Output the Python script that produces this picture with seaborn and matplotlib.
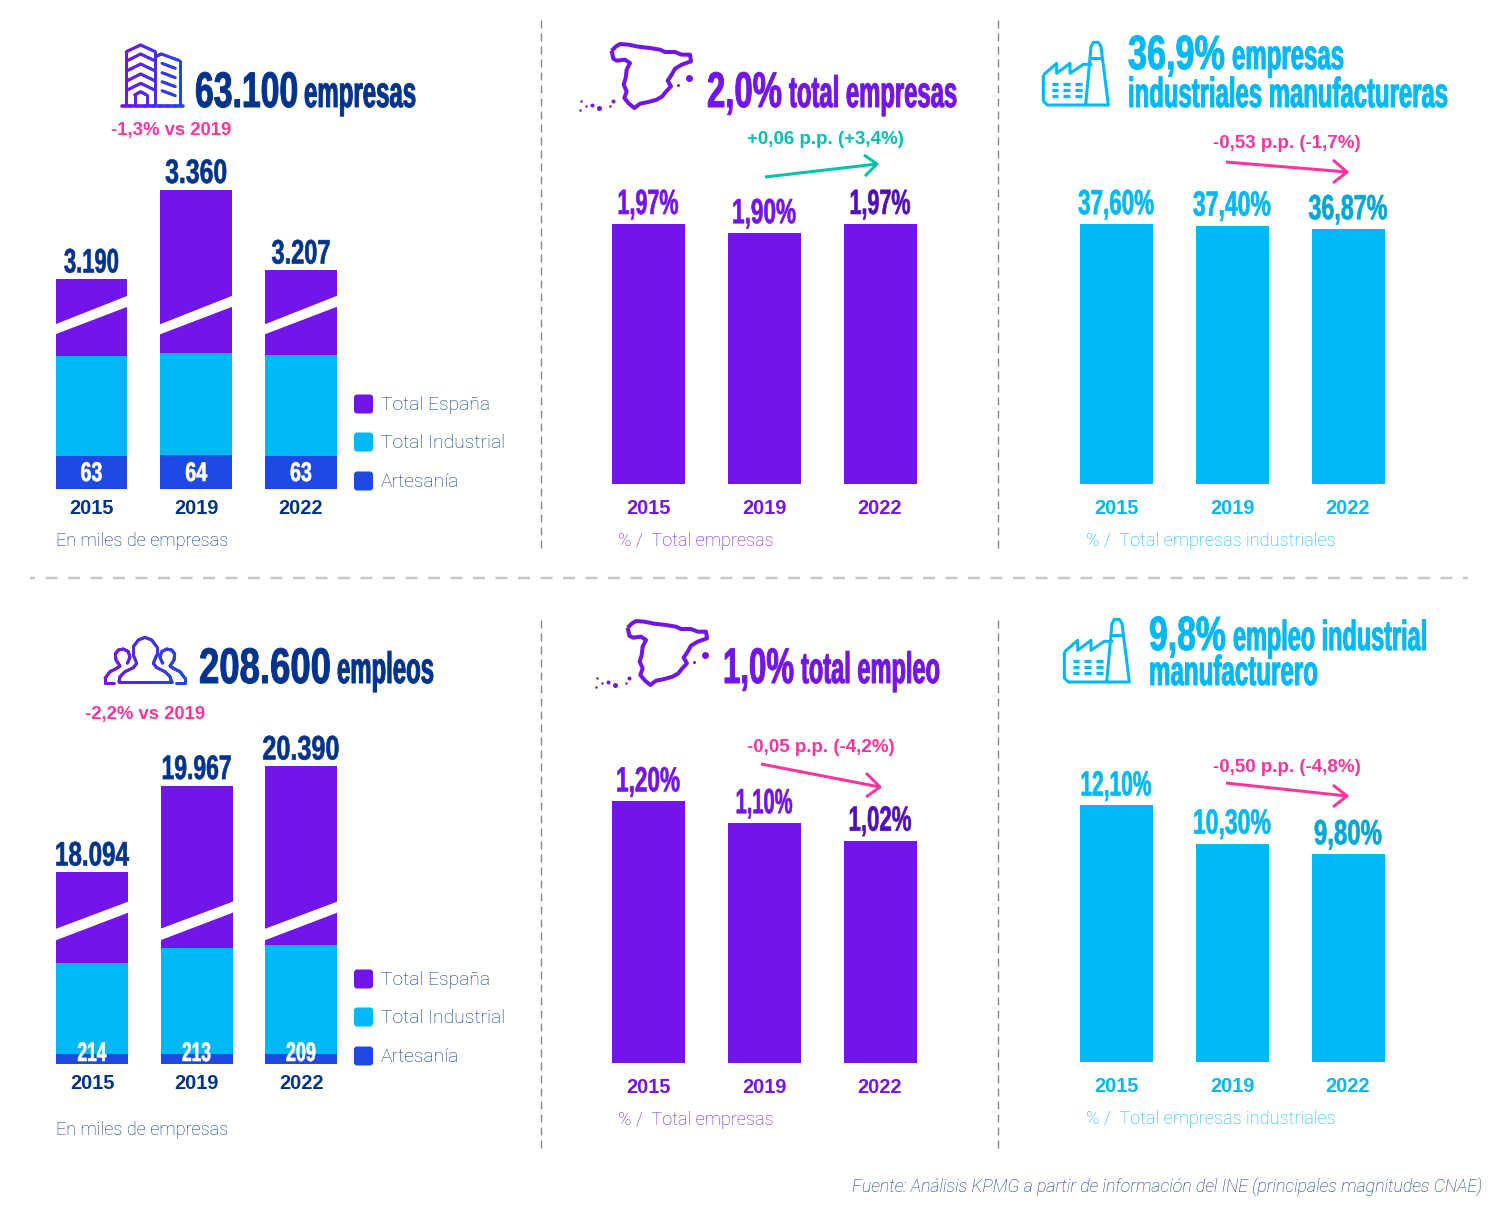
import numpy as np
import matplotlib
matplotlib.use('Agg')
import matplotlib.pyplot as plt
import matplotlib.patheffects as pe
from matplotlib.collections import LineCollection
from matplotlib.colors import LinearSegmentedColormap
from matplotlib.patches import FancyBboxPatch, Polygon
from matplotlib.transforms import Affine2D
import seaborn as sns

# data
years = ['2015', '2019', '2022']
empresas_total = [3190, 3360, 3207]
empresas_industria = [168, 171, 169]
empresas_artesania = [63, 64, 63]
empleo_total = [18094, 19967, 20390]
empleo_industria = [1769, 2068, 2133]
empleo_artesania = [214, 213, 209]
pct_empresas = [1.97, 1.90, 1.97]
pct_empresas_ind = [37.60, 37.40, 36.87]
pct_empleo = [1.20, 1.10, 1.02]
pct_empleo_ind = [12.10, 10.30, 9.80]
legend_labels = ['Total España', 'Total Industrial', 'Artesanía']

PURPLE = '#7215EA'
DARK_PURPLE = '#5010B8'
CYAN = '#00B8F5'
DARK_CYAN = '#00A6D6'
ROYAL = '#1E49E2'
NAVY = '#00338D'
PINK = '#FD349C'
TEAL = '#00C0AE'
NARROW = ['Liberation Sans Narrow', 'Liberation Sans']
BOLD = 'Liberation Sans'
LIGHT = 'Roboto'

sns.set_theme(style='white')
plt.rcParams['lines.scale_dashes'] = False
plt.rcParams['font.family'] = ['Liberation Sans', 'DejaVu Sans']

fig = plt.figure(figsize=(15, 12.12), dpi=100)
ov = fig.add_axes([0, 0, 1, 1], zorder=10)
ov.set_xlim(0, 1500)
ov.set_ylim(1212, 0)
ov.axis('off')


class Tall(pe.AbstractPathEffect):
    # the headline font is far more condensed than anything installed, so
    # the text is set small enough to fit its width and stretched upwards
    def __init__(self, sy, fat):
        super().__init__()
        self.sy = sy
        self.fat = fat

    def draw_path(self, renderer, gc, tpath, affine, rgbFace=None):
        y0 = affine.get_matrix()[1, 2]
        tall = affine + Affine2D().translate(0, -y0).scale(1, self.sy).translate(0, y0)
        gc2 = renderer.new_gc()
        gc2.copy_properties(gc)
        gc2.set_foreground(rgbFace)
        gc2.set_linewidth(self.fat)
        renderer.draw_path(gc2, tpath, tall, rgbFace)
        gc2.restore()


def fit_text(t, size, width, fat):
    w = t.get_window_extent(fig.canvas.get_renderer()).width
    t.set_fontsize(px(size * width / w))
    t.set_path_effects([Tall(w / width, fat)])
    return t


def px(size):
    return size * 0.72


def txt(x, y, s, size, color, family=BOLD, weight='normal', ha='left', va='center', style='normal'):
    return ov.text(x, y, s, fontsize=px(size), color=color, family=family, weight=weight,
                   ha=ha, va=va, style=style)


def head(x, y, s, size, color, width):
    t = ov.text(x, y, s, fontsize=px(size), color=color, family=NARROW, weight='bold',
                ha='left', va='baseline')
    return fit_text(t, size, width, 0.7)


def bar_axes(center0, spacing, base, height):
    left = center0 - spacing / 2
    ax = fig.add_axes([left / 1500, (1212 - base) / 1212, 3 * spacing / 1500, height / 1212])
    ax.patch.set_alpha(0)
    return ax


def finish_axes(ax, color, tick_pad):
    ax.set_xlim(-0.5, 2.5)
    ax.set_xlabel('')
    ax.set_ylabel('')
    ax.set_yticks([])
    ax.tick_params(axis='x', length=0, pad=px(tick_pad), labelsize=px(20), labelcolor=color)
    for lab in ax.get_xticklabels():
        lab.set_fontweight('bold')
    sns.despine(ax=ax, left=True, bottom=True)


def bar_label(ax, i, v, s, gap, size, color, width):
    t = ax.annotate(s, (i, v), xytext=(0, px(gap)), textcoords='offset points', ha='center',
                    va='baseline', fontsize=px(size), color=color, family=NARROW, weight='bold',
                    annotation_clip=False)
    fit_text(t, size, width, 0.45)


def miles(v):
    return f'{v:,}'.replace(',', '.')


def stacked_panel(total, industria, artesania, knots_v, knots_px, center0, spacing, base,
                  art_gap, break_left, break_right, tick_pad, total_w, art_w):
    # broken axis: piecewise scale, as in the original chart
    forward = lambda v: np.interp(v, knots_v, knots_px)
    inverse = lambda p: np.interp(p, knots_px, knots_v)
    ax = bar_axes(center0, spacing, base, forward(max(total)))
    ax.set_yscale('function', functions=(forward, inverse))
    width = 72 / spacing
    sns.barplot(x=years, y=total, color=PURPLE, saturation=1, width=width, linewidth=0, ax=ax)
    sns.barplot(x=years, y=industria, color=CYAN, saturation=1, width=width, linewidth=0, ax=ax)
    sns.barplot(x=years, y=artesania, color=ROYAL, saturation=1, width=width, linewidth=0, ax=ax)
    ax.set_ylim(0, max(total))
    finish_axes(ax, NAVY, tick_pad)
    for i in range(3):
        bar_label(ax, i, total[i], miles(total[i]), 6.5, 34, NAVY, total_w[i])
        bar_label(ax, i, 0, str(artesania[i]), art_gap, 27, 'white', art_w[i])
        # white slash marking the axis break
        x0 = center0 + i * spacing - 38
        x1 = center0 + i * spacing + 38
        ov.add_patch(Polygon([(x0, base - break_left[0]), (x1, base - break_right[0]),
                              (x1, base - break_right[1]), (x0, base - break_left[1])],
                             color='white', lw=0, zorder=3))
    return ax


def pct_panel(values, scale, color, last_color, center0, base, tick_pad, label_w):
    spacing = 116
    ax = bar_axes(center0, spacing, base, scale * max(values))
    sns.barplot(x=years, y=values, color=color, saturation=1, width=73 / spacing, linewidth=0, ax=ax)
    ax.set_ylim(0, max(values))
    finish_axes(ax, color, tick_pad)
    for i, v in enumerate(values):
        s = f'{v:.2f}%'.replace('.', ',')
        bar_label(ax, i, v, s, 10, 35, last_color if i == 2 else color, label_w[i])
    return ax


def grad_line(pts, lw=3.0, xr=None):
    # purple to blue gradient used by two of the icons
    pts = np.array(pts, dtype=float)
    cmap = LinearSegmentedColormap.from_list('g', [PURPLE, ROYAL])
    t = np.linspace(0, len(pts) - 1, (len(pts) - 1) * 8 + 1)
    xs = np.interp(t, np.arange(len(pts)), pts[:, 0])
    ys = np.interp(t, np.arange(len(pts)), pts[:, 1])
    segs = np.stack([np.column_stack([xs[:-1], ys[:-1]]), np.column_stack([xs[1:], ys[1:]])], axis=1)
    lc = LineCollection(segs, cmap=cmap, linewidths=px(lw), capstyle='round')
    lc.set_array((xs[:-1] - xr[0]) / (xr[1] - xr[0]))
    lc.set_clim(0, 1)
    ov.add_collection(lc)


def line(pts, color, lw=3.0):
    pts = np.array(pts, dtype=float)
    ov.plot(pts[:, 0], pts[:, 1], color=color, lw=px(lw), solid_capstyle='butt', solid_joinstyle='round')


def arrow(x0, y0, x1, y1, head_a, head_b, color):
    line([(x0, y0), (x1, y1)], color, 3)
    line([head_a, (x1, y1), head_b], color, 3)


def spain(dx, dy):
    outline = [(110, 38), (122, 26), (135, 18), (160, 20), (190, 26), (225, 30), (255, 35), (270, 42),
               (300, 42), (320, 50), (345, 50), (348, 70), (320, 80), (300, 92), (290, 110), (278, 128),
               (288, 145), (272, 162), (262, 175), (245, 185), (220, 192), (195, 197), (178, 210),
               (162, 197), (148, 180), (155, 160), (146, 140), (152, 120), (155, 95), (165, 75),
               (150, 65), (125, 68), (115, 62), (110, 38)]
    pts = [(575 + x / 3 + dx, 38 + y / 3 + dy) for x, y in outline]
    line(pts, PURPLE, 4)
    for x, y, r in [(343, 120, 7), (310, 140, 3), (18, 190, 2.5), (15, 215, 2.5), (33, 205, 2.5),
                    (50, 200, 4), (72, 210, 5), (105, 205, 2.5), (113, 188, 4)]:
        ov.plot(575 + x / 3 + dx, 38 + y / 3 + dy, 'o', color=PURPLE, ms=px(r), mew=0)


def factory(dx, dy):
    def p(seq):
        return [(1035 + x / 3 + dx, 35 + y / 3 + dy) for x, y in seq]
    line(p([(25, 120), (65, 85), (65, 115), (105, 85), (105, 115), (145, 88), (172, 88)]), CYAN)
    line(p([(25, 120), (25, 198), (37, 210), (220, 210), (198, 35), (190, 22), (175, 22), (168, 35), (152, 210)]), CYAN)
    line(p([(165, 68), (202, 68)]), CYAN)
    for row in [148, 165, 183]:
        for col in [50, 85, 120]:
            line(p([(col, row), (col + 20, row)]), CYAN, 3.2)


def building():
    def p(seq):
        return [(118 + x / 3, 40 + y / 3) for x, y in seq]
    xr = (122, 183)
    grad_line(p([(25, 195), (25, 35), (68, 15), (112, 35), (112, 195)]), xr=xr)
    for y in [62, 92, 122, 150]:
        grad_line(p([(28, y), (68, y - 20), (110, y)]), xr=xr)
    grad_line(p([(50, 195), (50, 165), (68, 155), (86, 165), (86, 195)]), xr=xr)
    grad_line(p([(112, 50), (130, 42), (185, 62), (185, 195)]), xr=xr)
    for y in [70, 98, 125, 152]:
        grad_line(p([(132, y), (172, y + 15)]), xr=xr)
    grad_line(p([(12, 198), (195, 198)]), lw=3.6, xr=xr)


def people():
    def p(seq):
        return [(100 + x / 3, 630 + y / 3) for x, y in seq]
    xr = (104, 186)
    grad_line(p([(57, 157), (60, 140), (75, 125), (100, 113), (110, 100), (100, 75), (100, 50), (115, 30),
                 (135, 22), (155, 30), (170, 50), (170, 75), (160, 100), (170, 113), (195, 125),
                 (210, 140), (215, 157), (57, 157)]), xr=xr)
    left = [(42, 158), (15, 158), (15, 145), (30, 125), (50, 115), (60, 108), (48, 90), (46, 72), (55, 60),
            (70, 57), (85, 65), (90, 82), (82, 100)]
    grad_line(p(left), xr=xr)
    grad_line(p([(270 - x, y) for x, y in left]), xr=xr)


def legend(y_centers):
    colors = [PURPLE, CYAN, ROYAL]
    for y, c, s in zip(y_centers, colors, legend_labels):
        ov.add_patch(FancyBboxPatch((355.5, y - 8), 16, 16, boxstyle='round,pad=1.5,rounding_size=3',
                                    fc=c, ec='none'))
        txt(381, y + 1, s, 19.3, NAVY, family=LIGHT, weight='light')


def note(x, y, s, color):
    txt(x, y, s, 18.2, color, family=LIGHT, weight='light')


# separators
for x in [541, 998]:
    for y0, y1 in [(20, 550), (620, 1150)]:
        ov.plot([x, x], [y0, y1], color='#8a8a8a', lw=px(1.4), ls=(0, (px(8), px(5))))
ov.plot([30, 1468], [578, 578], color='#c8c8c8', lw=px(2.5), ls=(px(7), (px(12), px(10.5))))

# top row
building()
head(195, 107, '63.100', 50, NAVY, 103)
head(304, 107, 'empresas', 44, NAVY, 112)
txt(171, 131, '-1,3% vs 2019', 18.5, PINK, weight='bold', ha='center')
stacked_panel(empresas_total, empresas_industria, empresas_artesania, [0, 64, 171, 3190, 3360],
              [0, 34, 136, 210, 299.5], 91.5, 104.75, 489, 8, (154, 164), (183, 194), 10,
              [55, 62, 59], [22, 22, 22])
legend([404, 442, 481])
note(56, 541, 'En miles de empresas', NAVY)

spain(0, 0)
head(707, 107, '2,0%', 50, PURPLE, 75)
head(789, 107, 'total empresas', 44, PURPLE, 168)
txt(825, 139, '+0,06 p.p. (+3,4%)', 18.8, TEAL, weight='bold', ha='center')
arrow(765, 177, 877, 164, (864, 155), (865, 176), TEAL)
pct_panel(pct_empresas, 132, PURPLE, DARK_PURPLE, 648, 484, 15, [61, 64, 61])
note(618, 541, '% /  Total empresas', PURPLE)

factory(0, 0)
head(1128, 69, '36,9%', 48, CYAN, 97)
head(1232, 69, 'empresas', 42, CYAN, 112)
head(1128, 107, 'industriales manufactureras', 42, CYAN, 320)
txt(1286.5, 143, '-0,53 p.p. (-1,7%)', 18.8, PINK, weight='bold', ha='center')
arrow(1226, 162, 1347, 172, (1333, 160), (1333, 183), PINK)
pct_panel(pct_empresas_ind, 6.91, CYAN, DARK_CYAN, 1116, 484, 15, [76, 78, 79])
note(1086, 541, '% /  Total empresas industriales', CYAN)

# bottom row
people()
head(199, 683, '208.600', 50, NAVY, 132)
head(337, 683, 'empleos', 44, NAVY, 97)
txt(145, 714, '-2,2% vs 2019', 18.5, PINK, weight='bold', ha='center')
stacked_panel(empleo_total, empleo_industria, empleo_artesania, [0, 214, 1769, 2133, 18094, 20390],
              [0, 10, 101, 119, 192, 298], 92, 104.5, 1064, 3, (123, 134.5), (152, 163), 10,
              [74, 70, 77], [29, 29, 30])
legend([979, 1017, 1056])
note(56, 1130, 'En miles de empresas', NAVY)

spain(16, 577)
head(723, 683, '1,0%', 50, PURPLE, 71)
head(801, 683, 'total empleo', 44, PURPLE, 139)
txt(820.5, 747, '-0,05 p.p. (-4,2%)', 18.8, PINK, weight='bold', ha='center')
arrow(761, 764, 880, 787, (866, 773), (866, 797), PINK)
pct_panel(pct_empleo, 218, PURPLE, DARK_PURPLE, 648, 1063, 15, [64, 57, 63])
note(618, 1120, '% /  Total empresas', PURPLE)

factory(21, 577)
head(1149, 650, '9,8%', 48, CYAN, 77)
head(1233, 650, 'empleo industrial', 42, CYAN, 194)
head(1149, 685, 'manufacturero', 42, CYAN, 169)
txt(1286.5, 767, '-0,50 p.p. (-4,8%)', 18.8, PINK, weight='bold', ha='center')
arrow(1226, 783, 1347, 796, (1333, 785), (1333, 807), PINK)
pct_panel(pct_empleo_ind, 21.2, CYAN, DARK_CYAN, 1116, 1062, 14.5, [71, 78, 68])
note(1086, 1119, '% /  Total empresas industriales', CYAN)

txt(1482, 1187, 'Fuente: Análisis KPMG a partir de información del INE (principales magnitudes CNAE)',
    17.7, NAVY, family=LIGHT, weight='light', ha='right', style='italic')

fig.savefig('out.png', dpi=100)
